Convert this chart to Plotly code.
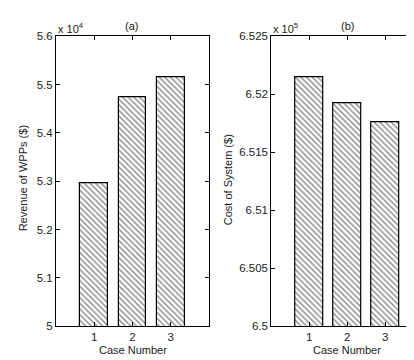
import plotly.graph_objects as go

cases = [1, 2, 3]
case_labels = ["1", "2", "3"]
revenue_wpp = [5.295, 5.474, 5.515]      # x 10^4 $
cost_system = [6.5215, 6.5192, 6.5176]   # x 10^5 $

W, H = 414, 360
FONT = "Liberation Sans, Arial, sans-serif"

def px(x):
    return x / W

def py(y):
    return 1 - y / H

pattern = dict(shape="\\", size=4, solidity=0.35, fgcolor="#111111", bgcolor="white")

fig = go.Figure()
fig.add_trace(go.Bar(x=cases, y=revenue_wpp, width=0.72, xaxis="x", yaxis="y",
                     marker=dict(color="white", pattern=pattern,
                                 line=dict(color="black", width=1.2)),
                     showlegend=False, hoverinfo="skip"))
fig.add_trace(go.Bar(x=cases, y=cost_system, width=0.72, xaxis="x2", yaxis="y2",
                     marker=dict(color="white", pattern=pattern,
                                 line=dict(color="black", width=1.2)),
                     showlegend=False, hoverinfo="skip"))

ax_common = dict(showgrid=False, zeroline=False, showline=True, linecolor="black",
                 linewidth=1, mirror="ticks", ticks="inside", ticklen=4,
                 tickcolor="black", tickwidth=1,
                 tickfont=dict(family=FONT, size=11.5, color="#222"))

y0, y1 = py(323), py(23)
yax2 = dict(ax_common)
yax2["mirror"] = False
fig.update_layout(
    width=W, height=H, margin=dict(l=0, r=0, t=0, b=0),
    paper_bgcolor="white", plot_bgcolor="white",
    bargap=0,
    xaxis=dict(domain=[px(48), px(201)], range=[0, 4], tickvals=cases,
               ticktext=case_labels, anchor="y", **ax_common),
    yaxis=dict(domain=[y0, y1], range=[5, 5.6], dtick=0.1, tick0=5,
               anchor="x", **ax_common),
    xaxis2=dict(domain=[px(263.3), 1], range=[0, 3.965], tickvals=cases,
                ticktext=case_labels, anchor="y2", **ax_common),
    yaxis2=dict(domain=[y0, y1], range=[6.5, 6.525], dtick=0.005, tick0=6.5,
                anchor="x2", **yax2),
    yaxis3=dict(overlaying="y2", side="right", anchor="x2", range=[6.5, 6.525],
                dtick=0.005, tick0=6.5, showline=False, showgrid=False,
                zeroline=False, ticks="inside", ticklen=4, tickcolor="#999",
                showticklabels=False),
)

tf = dict(family=FONT, size=11, color="#222")
ann = [
    dict(x=px(124.5), y=py(348), text="Case Number"),
    dict(x=px(339), y=py(348), text="Case Number"),
    dict(x=px(15), y=py(170), text="Revenue of WPPs ($)", textangle=-90),
    dict(x=px(220), y=py(172), text="Cost of System ($)", textangle=-90),
    dict(x=px(123), y=py(12), text="(a)"),
    dict(x=px(339), y=py(12), text="(b)"),
    dict(x=px(48), y=py(14), text="x 10<sup>4</sup>", xanchor="left"),
    dict(x=px(263), y=py(14), text="x 10<sup>5</sup>", xanchor="left"),
]
for a in ann:
    base = dict(xref="paper", yref="paper", showarrow=False, font=tf,
                xanchor="center", yanchor="middle")
    base.update(a)
    fig.add_annotation(**base)

fig.write_html("out.html")
